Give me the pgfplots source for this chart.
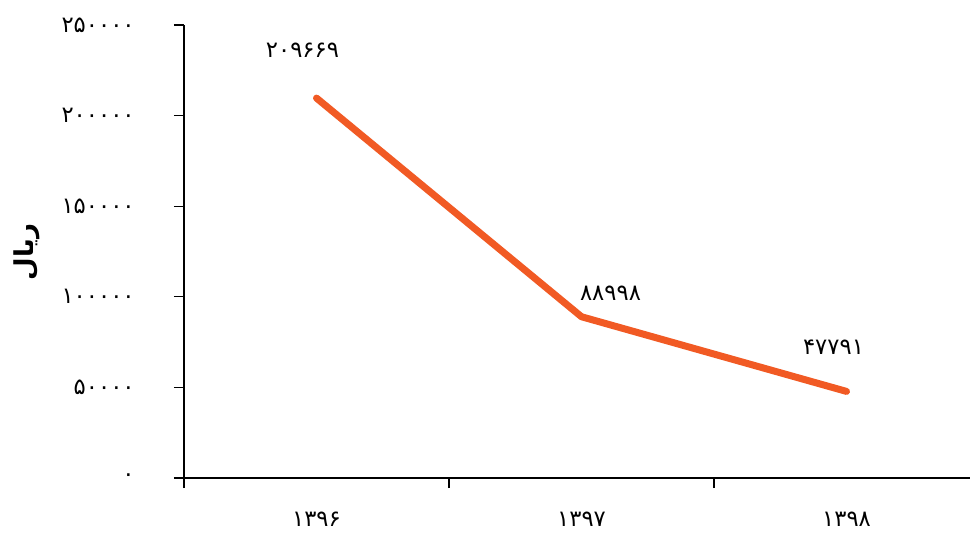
\documentclass[border=0pt]{standalone}
\usepackage{pgfplots}
\pgfplotsset{compat=1.18}
\usepackage{fontspec}
\setmainfont{DejaVu Sans}
\newfontfamily\fa[Script=Arabic]{DejaVu Sans}
\TeXXeTstate=1
\definecolor{lineor}{HTML}{F15A24}
\begin{document}
\begin{tikzpicture}
\begin{axis}[
  at={(0,0)}, anchor=south west,
  scale only axis, width=589.5pt, height=339.75pt,
  xmin=-0.5, xmax=2.466, ymin=0, ymax=250000,
  axis x line=bottom, axis y line=left,
  axis line style={-, black, line width=0.9pt},
  tick align=outside, major tick length=7.5pt,
  tick style={black, line width=0.9pt},
  xtick={-0.5,0.5,1.5}, xticklabels={},
  extra x ticks={0,1,2},
  extra x tick labels={{\fa ۱۳۹۶},{\fa ۱۳۹۷},{\fa ۱۳۹۸}},
  extra x tick style={major tick length=0pt, xticklabel style={yshift=-22pt}},
  ytick={0,50000,100000,150000,200000,250000},
  yticklabels={{\fa ۰},{\fa ۵۰۰۰۰},{\fa ۱۰۰۰۰۰},{\fa ۱۵۰۰۰۰},{\fa ۲۰۰۰۰۰},{\fa ۲۵۰۰۰۰}},
  yticklabel style={xshift=-26pt},
  scaled y ticks=false,
  tick label style={font=\fontsize{17}{20}\selectfont},
  clip=false,
]
\addplot[lineor, line width=5.25pt, line cap=round, line join=round] coordinates {
  (0,209669) (1,88998) (2,47791)
};
\node[font=\fontsize{17}{20}\selectfont] at (axis cs:0,209669) [xshift=-10.5pt, yshift=36pt] {\fa ۲۰۹۶۶۹};
\node[font=\fontsize{17}{20}\selectfont] at (axis cs:1,88998) [xshift=21.75pt, yshift=17.5pt] {\fa ۸۸۹۹۸};
\node[font=\fontsize{17}{20}\selectfont] at (axis cs:2,47791) [xshift=-9.75pt, yshift=33pt] {\fa ۴۷۷۹۱};
\end{axis}
\node[rotate=90, font=\fontsize{19.5}{22}\selectfont\bfseries] at (-117.75pt,169.5pt) {\fa\beginR ریال\endR};
\pgfresetboundingbox
\path (-138pt,-44.25pt) rectangle (590.25pt,358.5pt);
\end{tikzpicture}
\end{document}
